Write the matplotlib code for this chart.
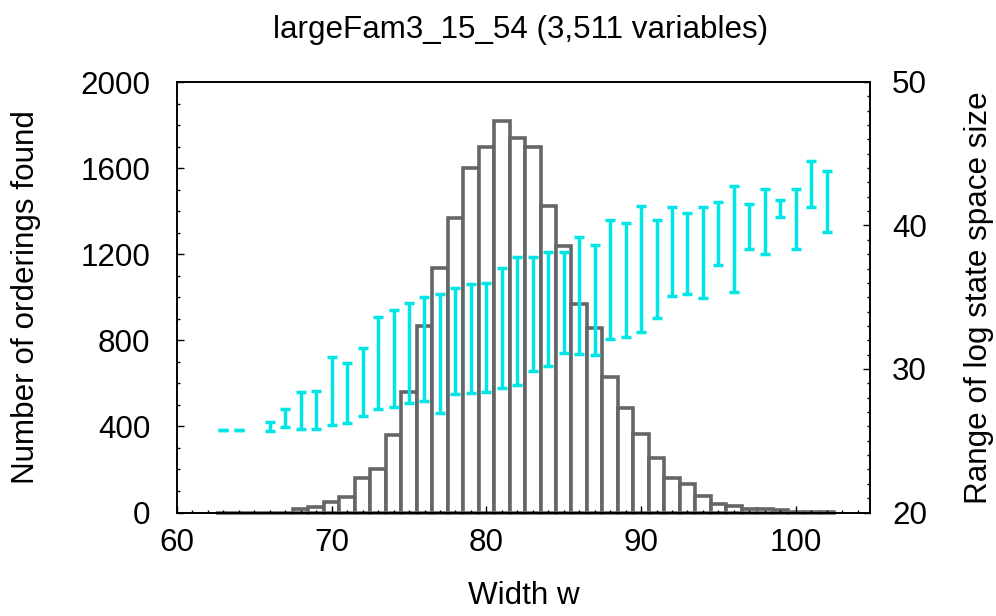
import numpy as np
import matplotlib
matplotlib.use("Agg")
import matplotlib.pyplot as plt
from matplotlib.ticker import MultipleLocator

plt.rcParams['font.family'] = ['Liberation Sans', 'DejaVu Sans']

# histogram: number of orderings found for each width w
widths = list(range(63, 103))
counts = [0, 0, 0, 0, 0, 15, 27, 47, 72, 158,
          204, 360, 561, 868, 1134, 1367, 1599, 1700, 1820, 1738,
          1700, 1425, 1238, 967, 856, 631, 487, 365, 255, 162,
          131, 75, 40, 32, 15, 15, 11, 3, 2, 1]

# range of log state space size per width (min / max)
rng_w = [63, 64, 66, 67, 68, 69, 70, 71, 72, 73, 74, 75, 76, 77, 78, 79, 80, 81, 82,
         83, 84, 85, 86, 87, 88, 89, 90, 91, 92, 93, 94, 95, 96, 97, 98, 99, 100, 101, 102]
rng_lo = [25.75, 25.75, 25.70, 25.98, 25.80, 25.80, 26.10, 26.26, 26.72, 27.19,
          27.37, 27.65, 27.79, 26.91, 28.24, 28.30, 28.42, 28.65, 28.89,
          29.86, 30.23, 31.14, 31.05, 30.98, 32.07, 32.25, 32.56, 33.58, 35.11,
          35.21, 34.93, 37.25, 35.39, 38.34, 37.99, 40.57, 38.34, 41.31, 39.53]
rng_hi = [25.75, 25.75, 26.28, 27.21, 28.42, 28.49, 30.82, 30.40, 31.44, 33.65,
          34.11, 34.58, 35.00, 35.23, 35.62, 35.92, 36.01, 37.02, 37.78,
          37.78, 38.13, 38.18, 39.22, 38.64, 40.38, 40.20, 41.38, 40.38, 41.31,
          40.85, 41.31, 41.66, 42.75, 41.48, 42.52, 41.78, 42.52, 44.52, 43.80]

fs = 22.6
cyan = '#00e5e5'
gray = '#666666'

fig = plt.figure(figsize=(9.96, 6.16), dpi=100)
ax = fig.add_axes([177/996, 1-512.5/616, (870-177)/996, (512.5-82)/616])

ax.bar(widths, counts, width=1.0, color='white', edgecolor=gray,
       linewidth=2.6, clip_on=False, zorder=1)

ax.set_xlim(60, 104.8)
ax.set_ylim(0, 2000)
ax.xaxis.set_major_locator(MultipleLocator(10))
ax.xaxis.set_minor_locator(MultipleLocator(1))
ax.yaxis.set_major_locator(MultipleLocator(400))
ax.yaxis.set_minor_locator(MultipleLocator(100))
ax.tick_params(which='both', direction='in', top=False, right=False, width=1, colors='black')
ax.tick_params(which='major', length=5, labelsize=fs)
ax.tick_params(which='minor', length=2.5)
ax.tick_params(axis='y', pad=19)
ax.tick_params(axis='x', pad=11)
for s in ax.spines.values():
    s.set_linewidth(1.2)

ax.set_xlabel('Width w', fontsize=fs, labelpad=17)
ax.set_ylabel('Number of orderings found', fontsize=fs)
ax.yaxis.set_label_coords(-0.196, 0.5)

ax2 = ax.twinx()
mid = (np.array(rng_lo) + np.array(rng_hi)) / 2
err = [mid - np.array(rng_lo), np.array(rng_hi) - mid]
ax2.errorbar(rng_w, mid, yerr=err, fmt='none', ecolor=cyan, elinewidth=2.5,
             capsize=3.6, capthick=2.5)
ax2.set_ylim(20, 50)
ax2.yaxis.set_major_locator(MultipleLocator(10))
ax2.yaxis.set_minor_locator(MultipleLocator(1))
ax2.tick_params(which='both', direction='in', width=1, colors='black')
ax2.tick_params(which='major', length=5, labelsize=fs, pad=16)
ax2.tick_params(which='minor', length=2.5)
for s in ax2.spines.values():
    s.set_linewidth(1.2)
ax2.set_ylabel('Range of log state space size', fontsize=fs)
ax2.yaxis.set_label_coords(1.136, 0.5)

fig.text(0.5225, 1-38.3/616, 'largeFam3_15_54 (3,511 variables)', fontsize=fs,
         ha='center', va='baseline')

fig.savefig('out.png', dpi=100)
